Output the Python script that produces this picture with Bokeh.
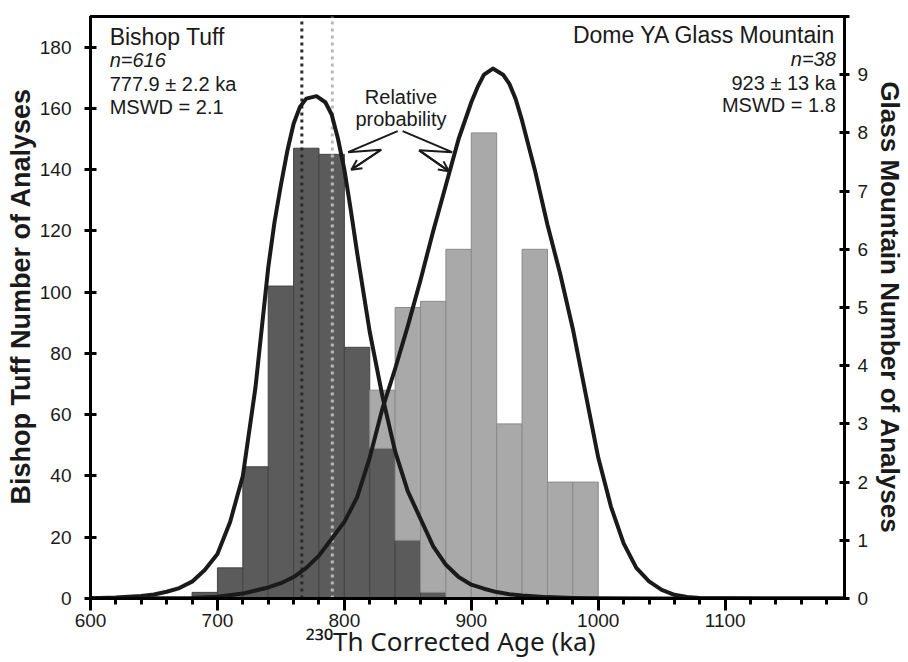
from bokeh.plotting import figure
from bokeh.models import Range1d, LinearAxis, FixedTicker, Label, Arrow, OpenHead
from bokeh.embed import file_html
from bokeh.resources import INLINE

# ---------------- data ----------------
bin_left = [680, 700, 720, 740, 760, 780, 800, 820, 840, 860, 880, 900, 920, 940, 960, 980]
bin_width = 20
bt_counts = [2, 10, 43, 102, 147, 145, 82, 49, 19, 2, 0, 0, 0, 0, 0, 0]
gm_counts = [0, 0, 0, 0, 0, 0, 0, 1, 4, 5, 6, 8, 3, 6, 2, 2]

bt_age = [600, 620, 640, 650, 660, 670, 680, 690, 700, 710, 720, 730, 740, 745, 750, 755,
          760, 765, 770, 778, 785, 790, 795, 800, 805, 810, 820, 830, 840, 850, 860, 870,
          880, 890, 900, 910, 920, 930, 940, 960, 980, 1000, 1050, 1194]
bt_prob = [0.05, 0.3, 0.8, 1.3, 2.2, 3.4, 5.5, 9.3, 14.5, 25, 40, 69, 108, 123, 135, 146,
           155, 160.5, 163.2, 164, 162, 158, 150, 140, 127, 113, 87, 66, 48, 35, 26, 17,
           11, 7, 4.5, 3.2, 2.1, 1.4, 1.0, 0.45, 0.2, 0.1, 0.02, 0]

gm_age = [600, 650, 680, 700, 720, 740, 750, 760, 770, 780, 790, 800, 810, 820, 830, 840,
          850, 860, 870, 880, 890, 900, 905, 910, 917, 925, 930, 935, 940, 950, 960, 970,
          980, 990, 1000, 1010, 1020, 1030, 1040, 1050, 1060, 1070, 1080, 1100, 1194]
gm_prob = [0.01, 0.05, 0.2, 0.6, 1.6, 3.6, 5, 7, 10, 14, 19.5, 25, 33, 46, 62, 75,
           89, 104, 120, 135, 150, 162, 167, 171, 173, 171, 168, 163, 156, 140, 122, 106,
           88, 67, 46, 30, 18, 10, 5.6, 2.8, 1.2, 0.5, 0.2, 0.05, 0]

ref_age_dark = 766.5
ref_age_light = 790.5

x_ticks = [600, 700, 800, 900, 1000, 1100]
x_minor = list(range(600, 1181, 20))
left_ticks = list(range(0, 181, 20))
right_ticks = list(range(0, 10))
left_max = 190
right_max = 10
scale = left_max / right_max

# ---------------- figure ----------------
FONT = "Liberation Sans"
INK = "#1a1a1a"
NB = "\u00a0"

W, H = 908, 662
BL, BR, BT, BB = 90, 57, 16, 64
p = figure(width=W, height=H, x_range=Range1d(600, 1194), y_range=Range1d(0, left_max),
           output_backend="svg", toolbar_location=None, title=None,
           min_border_left=BL, min_border_right=BR, min_border_top=BT, min_border_bottom=BB)
p.background_fill_color = "white"
p.border_fill_color = "white"
p.xgrid.visible = False
p.ygrid.visible = False
p.outline_line_color = "black"
p.outline_line_width = 3
p.outline_line_alpha = 1

p.extra_y_ranges = {"gm": Range1d(0, right_max)}

# bars
centers = [b + bin_width / 2 for b in bin_left]
p.vbar(x=centers, width=bin_width, top=bt_counts, bottom=0,
       fill_color="#5b5b5b", line_color="#444444", line_width=1)
gx = [c for c, g in zip(centers, gm_counts) if g > 0]
gb = [b for b, g in zip(bt_counts, gm_counts) if g > 0]
gt = [b + g * scale for b, g in zip(bt_counts, gm_counts) if g > 0]
p.vbar(x=gx, width=bin_width, top=gt, bottom=gb,
       fill_color="#a9a9a9", line_color="#8a8a8a", line_width=1)

# reference dotted lines
p.segment(x0=[ref_age_dark], y0=[0], x1=[ref_age_dark], y1=[left_max],
          line_color="#2a2a2a", line_width=3, line_dash="3 4")
p.segment(x0=[ref_age_light], y0=[0], x1=[ref_age_light], y1=[left_max],
          line_color="#b8b8b8", line_width=3, line_dash="3 4")

# probability curves
p.line(bt_age, bt_prob, line_width=4, line_color=INK, line_join="round")
p.line(gm_age, gm_prob, line_width=4, line_color=INK, line_join="round")

# axes
ax = p.xaxis[0]
ax.ticker = FixedTicker(ticks=x_ticks, minor_ticks=x_minor)
ay = p.yaxis[0]
ay.ticker = FixedTicker(ticks=left_ticks)

ar = LinearAxis(y_range_name="gm", ticker=FixedTicker(ticks=right_ticks, minor_ticks=[10]))
p.add_layout(ar, "right")

for a in (ax, ay, ar):
    a.axis_line_color = "black"
    a.axis_line_width = 3
    a.major_tick_line_color = "black"
    a.major_tick_line_width = 3
    a.minor_tick_line_color = "black"
    a.minor_tick_line_width = 3
    a.major_label_text_font = FONT
    a.major_label_text_font_size = "19px"
    a.major_label_text_color = INK
    a.axis_label_text_font = FONT
    a.axis_label_text_color = INK

ax.major_tick_out = 12
ax.major_tick_in = 0
ax.minor_tick_out = 6
ax.minor_tick_in = 0
ax.major_label_standoff = 3
ax.axis_label = "\u00b2\u00b3\u2070Th Corrected Age (ka)" + NB * 5
ax.axis_label_text_font = "Noto Sans"
ax.axis_label_text_font_size = "26px"
ax.axis_label_text_font_style = "normal"
ax.axis_label_standoff = -7

ay.major_tick_out = 6
ay.major_tick_in = 6
ay.minor_tick_out = 0
ay.minor_tick_in = 0
ay.major_label_standoff = 13
ay.axis_label = NB * 3 + "Bishop Tuff Number of Analyses"
ay.axis_label_text_font_size = "27px"
ay.axis_label_text_font_style = "bold"
ay.axis_label_standoff = 1

ar.major_tick_out = 5
ar.major_tick_in = 5
ar.minor_tick_out = 5
ar.minor_tick_in = 5
ar.major_label_standoff = 8
ar.axis_label = "Glass Mountain Number of Analyses"
ar.axis_label_text_font_size = "26px"
ar.axis_label_text_font_style = "bold"
ar.axis_label_standoff = 4

# ---------------- texts ----------------
PX_PER_UNIT = (H - BT - BB) / left_max


def lab(x, y_base, text, size, align="left", style="normal"):
    # anchor at the middle of the text box so that the baseline lands on y_base
    y = y_base + 0.3465 * size / PX_PER_UNIT
    p.add_layout(Label(x=x, y=y, text=text, text_font=FONT, text_font_size=f"{size}px",
                       text_align=align, text_baseline="middle",
                       text_font_style=style, text_color=INK))


lab(615.1, 180.6, "Bishop Tuff", 23)
lab(615.1, 173.5, "n=616", 20, style="italic")
lab(615.1, 165.6, "777.9 \u00b1 2.2 ka", 20)
lab(615.1, 158.2, "MSWD = 2.1", 20)

lab(1187.2, 181.4, "Dome YA Glass Mountain", 23, align="right")
lab(1187.2, 174.0, "n=38", 20, align="right", style="italic")
lab(1187.2, 166.1, "923 \u00b1 13 ka", 20, align="right")
lab(1187.2, 159.0, "MSWD = 1.8", 20, align="right")

lab(844.6, 161.5, "Relative", 20, align="center")
lab(844.6, 154.4, "probability", 20, align="center")

# pointer arrows
arrow_left_x = [842.0, 803.0, 829.0, 805.5]
arrow_left_y = [152.6, 145.7, 146.5, 140.0]
arrow_right_x = [845.9, 884.9, 858.9, 882.3]
arrow_right_y = [152.6, 145.7, 146.3, 139.5]
for xs, ys in ((arrow_left_x, arrow_left_y), (arrow_right_x, arrow_right_y)):
    p.line(xs, ys, line_width=2, line_color=INK)
    p.add_layout(Arrow(end=OpenHead(size=10, line_width=2, line_color=INK),
                       x_start=xs[2], y_start=ys[2], x_end=xs[3], y_end=ys[3],
                       line_width=2, line_color=INK))

open("out.html", "w").write(file_html(p, INLINE))
